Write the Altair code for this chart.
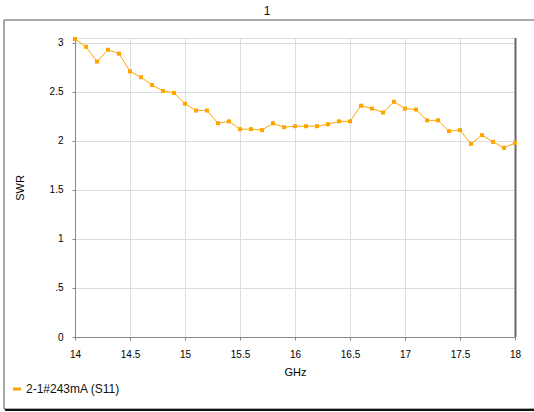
import altair as alt
import pandas as pd

freq = [14.0, 14.1, 14.2, 14.3, 14.4, 14.5, 14.6, 14.7, 14.8, 14.9,
        15.0, 15.1, 15.2, 15.3, 15.4, 15.5, 15.6, 15.7, 15.8, 15.9,
        16.0, 16.1, 16.2, 16.3, 16.4, 16.5, 16.6, 16.7, 16.8, 16.9,
        17.0, 17.1, 17.2, 17.3, 17.4, 17.5, 17.6, 17.7, 17.8, 17.9, 18.0]
swr = [3.04, 2.96, 2.81, 2.93, 2.89, 2.71, 2.65, 2.57, 2.51, 2.49,
       2.38, 2.31, 2.31, 2.18, 2.20, 2.12, 2.12, 2.11, 2.18, 2.14,
       2.15, 2.15, 2.15, 2.17, 2.20, 2.20, 2.36, 2.33, 2.29, 2.40,
       2.33, 2.32, 2.21, 2.21, 2.10, 2.11, 1.97, 2.06, 1.99, 1.93, 1.98]
series = "2-1#243mA (S11)"
x_ticks = [14, 14.5, 15, 15.5, 16, 16.5, 17, 17.5, 18]
y_ticks = [0, 0.5, 1, 1.5, 2, 2.5, 3]

df = pd.DataFrame({"GHz": freq, "SWR": swr, "series": [series] * len(freq)})

FONT = "Liberation Sans"
ORANGE = "#FFA500"

xenc = alt.X("GHz:Q", scale=alt.Scale(domain=[14, 18], nice=False, zero=False),
             axis=alt.Axis(values=x_ticks, title="GHz", titleY=35, titleBaseline="middle",
                           titleFontWeight="normal",
                           labelPadding=9, tickSize=3, format="~g",
                           labelFlush=False))
yenc = alt.Y("SWR:Q", scale=alt.Scale(domain=[0, 3.05], nice=False),
             axis=alt.Axis(values=y_ticks, title="SWR", titleX=-55, titleBaseline="middle",
                           titleFontWeight="normal", format="~g",
                           labelPadding=9, tickSize=3,
                           labelExpr="datum.value == 0.5 ? '.5' : datum.label"))
color = alt.Color("series:N", scale=alt.Scale(range=[ORANGE]),
                  legend=alt.Legend(title=None, orient="none", legendX=-64, legendY=345,
                                    symbolType="stroke", symbolStrokeWidth=3, symbolSize=64,
                                    labelOffset=3,
                                    labelFont=FONT, labelFontSize=12, labelColor="#111"))

line = alt.Chart(df).mark_line(strokeWidth=1, color="#FFB733").encode(x=xenc, y=yenc, color=color)
pts = alt.Chart(df).mark_square(size=16, filled=True, opacity=1).encode(x=xenc, y=yenc, color=color)

frame_df = pd.DataFrame({"k": [0]})
frame = alt.Chart(frame_df).mark_rect(fill="white", fillOpacity=0, stroke="#555",
                                      strokeWidth=1, strokeOpacity=1).encode(
    x=alt.value(-71), x2=alt.value(462), y=alt.value(-18), y2=alt.value(371))
shadow = alt.Chart(frame_df).mark_rule(stroke="#111", strokeWidth=2).encode(
    x=alt.value(-70), x2=alt.value(462), y=alt.value(372))
right_edge = alt.Chart(frame_df).mark_rule(stroke="#666", strokeWidth=2).encode(
    x=alt.value(440.5), y=alt.value(0), y2=alt.value(299))

chart = alt.layer(frame, shadow, right_edge, line, pts).properties(
    width=440, height=299,
    title=alt.TitleParams("1", anchor="middle", dx=-28, offset=2, font=FONT,
                          fontSize=12, fontWeight="normal", color="#111"),
    padding={"left": 75, "top": 38, "right": 19, "bottom": 75},
    autosize=alt.AutoSizeParams(type="none"),
).configure_view(stroke="#333", strokeWidth=1).configure_axis(
    labelFont=FONT, labelFontSize=12, labelColor="#111",
    titleFont=FONT, titleFontSize=12, titleFontWeight="normal", titleColor="#111",
    domainColor="#444", tickColor="#444", gridColor="#d6d6d6", gridWidth=1,
).configure(background="white")

chart.save("out.html", embed_options={"renderer": "svg", "actions": False})
